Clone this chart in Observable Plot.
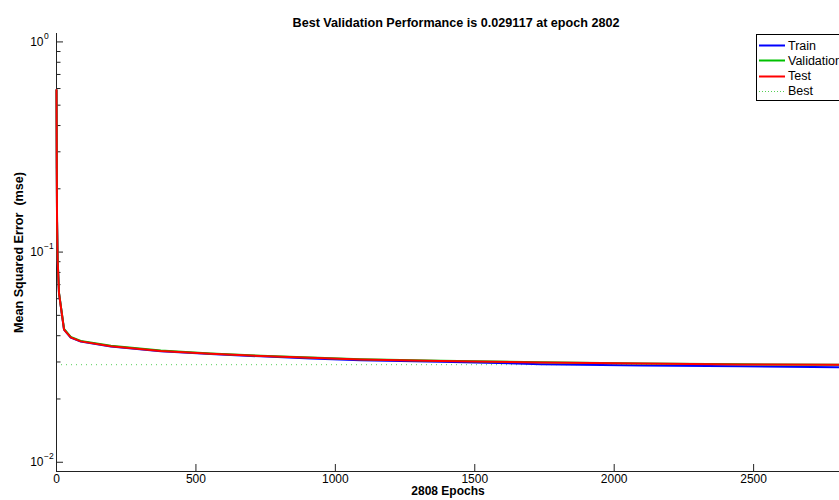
<!DOCTYPE html>
<html>
<head>
<meta charset="utf-8">
<script src="https://cdn.jsdelivr.net/npm/d3@7"></script>
<script src="https://cdn.jsdelivr.net/npm/@observablehq/plot@0.6"></script>
<style>
  html, body { margin: 0; padding: 0; background: #fff; overflow: hidden; }
  #wrap { position: relative; width: 839px; height: 500px; overflow: hidden;
          font-family: "Liberation Sans", Arial, Helvetica, sans-serif; }
  #legend { position: absolute; left: 756px; top: 34px; width: 100px; height: 65px;
            border: 1.5px solid #000; background: #fff; font-size: 12.5px; color: #000; }
  #legend .row { position: absolute; left: 2px; height: 15px; display: flex; align-items: center; }
  #legend .row svg { width: 27px; height: 15px; margin-right: 2px; }
</style>
</head>
<body>
<div id="wrap"><div id="legend"></div></div>
<script>
// Training record of the network: mean squared error per epoch
const epochs     = [0, 1, 2, 4, 9, 27, 51, 87, 195, 374, 553, 733, 912, 1091, 1378, 1737, 2100, 2454, 2802, 2808];
const train      = [0.59, 0.25, 0.14, 0.092, 0.0636, 0.0428, 0.0392, 0.0375, 0.0355, 0.0337, 0.0327, 0.0319, 0.0312, 0.0306, 0.0301, 0.0293, 0.0289, 0.0286, 0.02833, 0.0283];
const validation = [0.59, 0.25, 0.14, 0.093, 0.0640, 0.0431, 0.0395, 0.0378, 0.0358, 0.0340, 0.0329, 0.0321, 0.0315, 0.0309, 0.0304, 0.0299, 0.0295, 0.02925, 0.029117, 0.02912];
const test       = [0.59, 0.25, 0.14, 0.092, 0.0636, 0.0428, 0.0393, 0.0376, 0.0356, 0.0338, 0.0328, 0.0320, 0.0314, 0.0308, 0.0303, 0.0298, 0.0295, 0.0292, 0.02911, 0.0291];

const bestPerf  = 0.029117;
const bestEpoch = 2802;
const totalEpochs = 2808;

const seriesNames  = ["Train", "Validation", "Test"];
const seriesColors = ["#0000ff", "#00c000", "#ff0000"];
const bestColor = "#55d055";

const xTicks = [0, 500, 1000, 1500, 2000, 2500];
const yMajor = [1, 0.1, 0.01];
const yExponents = ["0", "\u22121", "\u22122"];
const yMinor = [0.9, 0.8, 0.7, 0.6, 0.5, 0.4, 0.3, 0.2,
                0.09, 0.08, 0.07, 0.06, 0.05, 0.04, 0.03, 0.02];
const yDomain = [Math.pow(10, -2.044), Math.pow(10, 0.04)];

const titleText  = `Best Validation Performance is ${bestPerf} at epoch ${bestEpoch}`;
const xLabelText = `${totalEpochs} Epochs`;
const yLabelText = "Mean Squared Error  (mse)";

const rows = (vals) => epochs.map((e, i) => ({epoch: e, mse: vals[i]}));
const seriesData = [train, validation, test].map(rows);

const W = 839, H = 500, mL = 56, mR = 0, mT = 33, mB = 29;
const frameW = W - mL - mR, frameH = H - mT - mB;
const font = "\"Liberation Sans\", Arial, Helvetica, sans-serif";

const chart = Plot.plot({
  width: W, height: H,
  marginLeft: mL, marginRight: mR, marginTop: mT, marginBottom: mB,
  x: {domain: [0, totalEpochs], axis: null},
  y: {type: "log", domain: yDomain, axis: null},
  style: {fontFamily: font, fontSize: "12px", background: "#fff", overflow: "visible"},
  marks: [
    // best validation level
    Plot.ruleY([bestPerf], {stroke: bestColor, strokeWidth: 1, strokeDasharray: "1,4"}),
    // axis lines
    Plot.ruleX([0], {stroke: "#222", strokeWidth: 1}),
    Plot.ruleY([yDomain[0]], {stroke: "#222", strokeWidth: 1.2}),
    // inward ticks
    Plot.ruleX(xTicks, {stroke: "#222", insetTop: frameH - 7}),
    Plot.ruleY(yMajor, {stroke: "#222", insetRight: frameW - 7}),
    Plot.ruleY(yMinor, {stroke: "#222", insetRight: frameW - 4.5}),
    // performance curves
    ...seriesData.map((d, i) => Plot.line(d, {x: "epoch", y: "mse", stroke: seriesColors[i], strokeWidth: 2})),
    // tick labels
    Plot.text(xTicks, {x: d => d, frameAnchor: "bottom", dy: 11.5, text: d => String(d), fill: "#000", fontSize: 12}),
    Plot.text(yMajor, {y: d => d, frameAnchor: "left", dx: -13, textAnchor: "end", text: () => "10", fill: "#000", fontSize: 12}),
    Plot.text(yMajor, {y: d => d, frameAnchor: "left", dx: -12.5, dy: -6, textAnchor: "start", text: (d, i) => yExponents[i], fill: "#000", fontSize: 8.5}),
    // title and axis labels
    Plot.text([titleText], {frameAnchor: "top", dx: 8, dy: -15, text: d => d, fontWeight: "bold", fontSize: 12.6, fill: "#000"}),
    Plot.text([xLabelText], {frameAnchor: "bottom", dy: 23, text: d => d, fontWeight: "bold", fontSize: 12, fill: "#000"}),
    Plot.text([yLabelText], {frameAnchor: "left", dx: -38, rotate: -90, textAnchor: "middle", text: d => d, fontWeight: "bold", fontSize: 12.6, fill: "#000"})
  ]
});

const wrap = document.getElementById("wrap");
wrap.insertBefore(chart, wrap.firstChild);

// legend box
const legend = document.getElementById("legend");
const legendItems = [
  ...seriesNames.map((n, i) => ({name: n, color: seriesColors[i], dash: null, width: 2})),
  {name: "Best", color: bestColor, dash: "1,2", width: 1}
];
legendItems.forEach((item, i) => {
  const row = document.createElement("div");
  row.className = "row";
  row.style.top = (3 + i * 15.3) + "px";
  const svg = d3.create("svg");
  svg.append("line")
    .attr("x1", 0).attr("x2", 26).attr("y1", 7.5).attr("y2", 7.5)
    .attr("stroke", item.color).attr("stroke-width", item.width)
    .attr("stroke-dasharray", item.dash);
  row.appendChild(svg.node());
  const label = document.createElement("span");
  label.textContent = item.name;
  row.appendChild(label);
  legend.appendChild(row);
});
</script>
</body>
</html>
